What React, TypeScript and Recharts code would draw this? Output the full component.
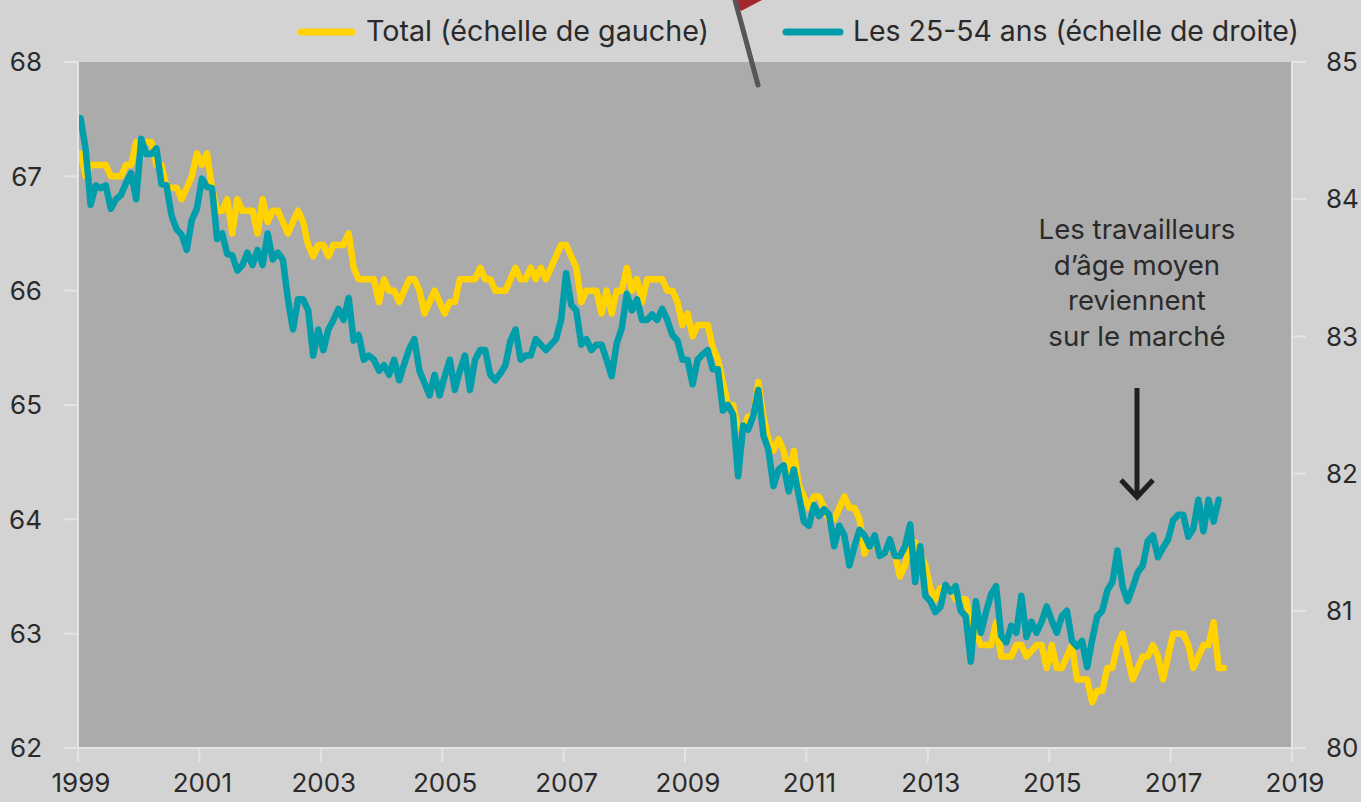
import React from 'react';
import { LineChart, Line, XAxis, YAxis, CartesianGrid } from 'recharts';

const YEAR_TICKS = [1999, 2001, 2003, 2005, 2007, 2009, 2011, 2013, 2015, 2017, 2019];
const LEFT_TICKS = [62, 63, 64, 65, 66, 67, 68];
const RIGHT_TICKS = [80, 81, 82, 83, 84, 85];

// Monthly from January 1999
const total = [
  67.2, 67.0, 67.1, 67.1, 67.1, 67.1, 67.0, 67.0, 67.0, 67.1,
  67.1, 67.3, 67.3, 67.3, 67.3, 67.1, 67.1, 66.9, 66.9, 66.9,
  66.8, 66.9, 67.0, 67.2, 67.1, 67.2, 66.9, 66.7, 66.7, 66.8,
  66.5, 66.8, 66.7, 66.7, 66.7, 66.5, 66.8, 66.6, 66.7, 66.7,
  66.6, 66.5, 66.6, 66.7, 66.6, 66.4, 66.3, 66.4, 66.4, 66.3,
  66.4, 66.4, 66.4, 66.5, 66.2, 66.1, 66.1, 66.1, 66.1, 65.9,
  66.1, 66.0, 66.0, 65.9, 66.0, 66.1, 66.1, 66.0, 65.8, 65.9,
  66.0, 65.9, 65.8, 65.9, 65.9, 66.1, 66.1, 66.1, 66.1, 66.2,
  66.1, 66.1, 66.0, 66.0, 66.0, 66.1, 66.2, 66.1, 66.1, 66.2,
  66.1, 66.2, 66.1, 66.2, 66.3, 66.4, 66.4, 66.3, 66.2, 65.9,
  66.0, 66.0, 66.0, 65.8, 66.0, 65.8, 66.0, 66.0, 66.2, 66.0,
  66.1, 65.9, 66.1, 66.1, 66.1, 66.1, 66.0, 66.0, 65.9, 65.7,
  65.8, 65.6, 65.7, 65.7, 65.7, 65.5, 65.4, 65.2, 65.0, 65.0,
  64.8, 64.8, 64.9, 64.9, 65.2, 64.9, 64.7, 64.6, 64.7, 64.6,
  64.4, 64.6, 64.3, 64.2, 64.1, 64.2, 64.2, 64.1, 64.0, 64.0,
  64.1, 64.2, 64.1, 64.1, 64.0, 63.7, 63.8, 63.8, 63.7, 63.7,
  63.8, 63.7, 63.5, 63.6, 63.8, 63.8, 63.7, 63.6, 63.4, 63.3,
  63.4, 63.4, 63.4, 63.3, 63.3, 63.3, 63.1, 63.0, 62.9, 62.9,
  62.9, 63.1, 62.8, 62.8, 62.8, 62.9, 62.9, 62.8, 62.85, 62.9,
  62.9, 62.7, 62.9, 62.7, 62.7, 62.8, 62.9, 62.6, 62.6, 62.6,
  62.4, 62.5, 62.5, 62.7, 62.7, 62.9, 63.0, 62.8, 62.6, 62.7,
  62.8, 62.8, 62.9, 62.8, 62.6, 62.8, 63.0, 63.0, 63.0, 62.9,
  62.7, 62.8, 62.9, 62.9, 63.1, 62.7, 62.7,
];

const primeAge = [
  84.59, 84.37, 83.96, 84.1, 84.08, 84.1, 83.93, 84.0, 84.03, 84.12,
  84.19, 84.0, 84.44, 84.33, 84.33, 84.37, 84.11, 84.1, 83.88, 83.78,
  83.74, 83.63, 83.85, 83.93, 84.15, 84.09, 84.08, 83.71, 83.75, 83.6,
  83.59, 83.48, 83.52, 83.61, 83.52, 83.63, 83.52, 83.75, 83.56, 83.61,
  83.56, 83.27, 83.05, 83.27, 83.27, 83.19, 82.86, 83.05, 82.9, 83.05,
  83.12, 83.2, 83.12, 83.28, 82.97, 83.01, 82.83, 82.86, 82.83, 82.75,
  82.79, 82.72, 82.83, 82.68, 82.8, 82.91, 82.98, 82.75, 82.66, 82.57,
  82.72, 82.57, 82.71, 82.83, 82.61, 82.75, 82.86, 82.61, 82.83, 82.9,
  82.9, 82.72, 82.68, 82.73, 82.79, 82.97, 83.05, 82.83, 82.86, 82.86,
  82.98, 82.94, 82.9, 82.94, 82.98, 83.12, 83.46, 83.23, 83.19, 82.94,
  82.98, 82.9, 82.94, 82.94, 82.83, 82.71, 82.95, 83.06, 83.31, 83.19,
  83.27, 83.12, 83.12, 83.16, 83.12, 83.2, 83.12, 83.01, 82.97, 82.83,
  82.83, 82.65, 82.83, 82.87, 82.9, 82.76, 82.76, 82.46, 82.5, 82.43,
  81.98, 82.35, 82.32, 82.42, 82.61, 82.28, 82.17, 81.91, 82.03, 82.06,
  81.87, 82.03, 81.84, 81.65, 81.62, 81.77, 81.69, 81.74, 81.7, 81.47,
  81.62, 81.55, 81.33, 81.47, 81.59, 81.55, 81.47, 81.55, 81.4, 81.42,
  81.52, 81.4, 81.4, 81.47, 81.63, 81.21, 81.47, 81.11, 81.07, 80.99,
  81.03, 81.19, 81.14, 81.18, 81.0, 80.96, 80.63, 81.07, 80.84, 80.99,
  81.12, 81.18, 80.82, 80.77, 80.89, 80.84, 81.11, 80.81, 80.92, 80.84,
  80.92, 81.03, 80.93, 80.84, 80.96, 81.0, 80.78, 80.74, 80.78, 80.59,
  80.79, 80.96, 81.0, 81.15, 81.21, 81.44, 81.18, 81.07, 81.17, 81.28,
  81.33, 81.51, 81.55, 81.39, 81.46, 81.52, 81.66, 81.7, 81.7, 81.54,
  81.6, 81.81, 81.58, 81.81, 81.65, 81.81,
];

const annotation = ["Les travailleurs", "d\u2019âge moyen", 'reviennent', 'sur le marché'];

const data = total.map((value, i) => ({
  date: 1999 + (i + 0.5) / 12,
  total: value,
  primeAge: primeAge[i],
}));

const FONT = 'Inter, sans-serif';
const YELLOW = '#ffd200';
const TEAL = '#009dab';
const INK = '#2b2a2b';
const AXIS = '#e4e4e4';

const tickStyle = { fontSize: 26, fill: INK, fontFamily: FONT };

const App = () => {
  return (
    <div style={{ position: 'absolute', left: 0, top: 0, width: 1361, height: 802, background: '#d3d3d3', overflow: 'hidden' }}>
      <LineChart width={1361} height={802} data={data} margin={{ top: 62, right: 0, bottom: 0, left: 0 }}>
        <CartesianGrid horizontal={false} vertical={false} fill="#ababab" />
        <XAxis
          dataKey="date"
          type="number"
          domain={[1999, 2019]}
          ticks={YEAR_TICKS}
          height={54}
          interval={0}
          allowDataOverflow
          tick={{ ...tickStyle, dx: 3 }}
          tickSize={14}
          tickMargin={12}
          tickLine={{ stroke: AXIS, strokeWidth: 2 }}
          axisLine={{ stroke: AXIS, strokeWidth: 2 }}
        />
        <YAxis
          yAxisId="left"
          domain={[62, 68]}
          ticks={LEFT_TICKS}
          width={78}
          interval={0}
          tick={tickStyle}
          tickSize={14}
          tickMargin={22}
          tickLine={{ stroke: AXIS, strokeWidth: 2 }}
          axisLine={{ stroke: AXIS, strokeWidth: 2 }}
        />
        <YAxis
          yAxisId="right"
          orientation="right"
          domain={[80, 85]}
          ticks={RIGHT_TICKS}
          width={69}
          interval={0}
          tick={tickStyle}
          tickSize={14}
          tickMargin={20}
          tickLine={{ stroke: AXIS, strokeWidth: 2 }}
          axisLine={{ stroke: AXIS, strokeWidth: 2 }}
        />
        <Line yAxisId="left" dataKey="total" type="linear" stroke={YELLOW} strokeWidth={6.5} dot={false} strokeLinecap="round" strokeLinejoin="round" isAnimationActive={false} />
        <Line yAxisId="right" dataKey="primeAge" type="linear" stroke={TEAL} strokeWidth={6.5} dot={false} strokeLinecap="round" strokeLinejoin="round" isAnimationActive={false} />

        {/* legende */}
        <line x1={301} y1={32} x2={352} y2={32} stroke={YELLOW} strokeWidth={7} strokeLinecap="round" />
        <text x={366} y={41} fontSize={28.7} fontFamily={FONT} fill={INK}>Total (échelle de gauche)</text>
        <line x1={786} y1={32} x2={840} y2={32} stroke={TEAL} strokeWidth={7} strokeLinecap="round" />
        <text x={853} y={41} fontSize={28.4} fontFamily={FONT} fill={INK}>Les 25-54 ans (échelle de droite)</text>

        {/* drapeau */}
        <polygon points="733,0 762,0 741,11" fill="#a3272d" />
        <line x1={735} y1={0} x2={758} y2={85} stroke="#565656" strokeWidth={5} strokeLinecap="round" />

        {/* annotation */}
        {annotation.map((line, i) => (
          <text key={line} x={1137} y={239 + i * 35.7} textAnchor="middle" fontSize={27.6} fontFamily={FONT} fill={INK}>
            {line}
          </text>
        ))}
        <line x1={1137} y1={388} x2={1137} y2={498} stroke="#1f1f1f" strokeWidth={5} />
        <polyline points="1121,480 1137,497 1153,480" fill="none" stroke="#1f1f1f" strokeWidth={5} />
      </LineChart>
    </div>
  );
};

export default App;
